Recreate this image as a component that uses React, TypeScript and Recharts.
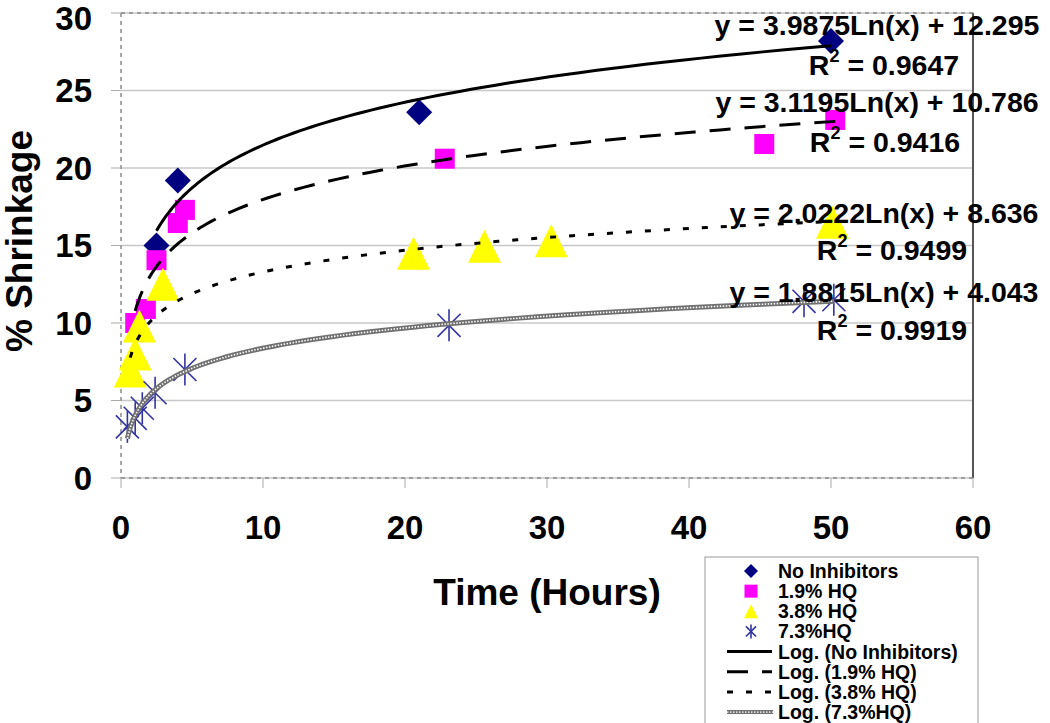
import React from 'react';
import { ComposedChart, Scatter, XAxis, YAxis, CartesianGrid, ReferenceLine } from 'recharts';

// measured points, hours vs % shrinkage
const noInhibX = [2.5, 4.0, 21, 50];
const noInhibY = [15.0, 19.2, 23.6, 28.2];

const hq19X = [1.0, 1.75, 2.5, 4.0, 4.5, 22.8, 45.3, 50.3];
const hq19Y = [10.0, 10.9, 14.05, 16.45, 17.3, 20.6, 21.55, 23.1];

const hq38X = [0.65, 1.0, 1.3, 2.95, 20.6, 25.6, 30.3, 50.1];
const hq38Y = [6.9, 8.0, 9.8, 12.5, 14.5, 14.95, 15.3, 16.5];

const hq73X = [0.45, 1.0, 1.5, 2.4, 4.5, 23.1, 48.1, 50.2];
const hq73Y = [3.3, 3.85, 4.5, 5.5, 7.0, 9.85, 11.4, 11.5];

// Excel log trendlines, as printed on the chart
const fitSlope = [3.9875, 3.1195, 2.0222, 1.8815];
const fitIntercept = [12.295, 10.786, 8.636, 4.043];
const fitR2 = ['0.9647', '0.9416', '0.9499', '0.9919'];

const xTicks = [0, 10, 20, 30, 40, 50, 60];
const yTicks = [0, 5, 10, 15, 20, 25, 30];

const seriesNames = ['No Inhibitors', '1.9% HQ', '3.8% HQ', '7.3%HQ'];

const FONT = '"Liberation Sans", Arial, sans-serif';

const toPoints = (xs: number[], ys: number[]) => xs.map((x, i) => ({ x, y: ys[i] }));

const trend = (xs: number[], k: number) => {
  const lo = Math.min(...xs);
  const hi = Math.max(...xs);
  const n = 90;
  return Array.from({ length: n }, (_, i) => {
    const x = lo * Math.pow(hi / lo, i / (n - 1));
    return { x, y: fitSlope[k] * Math.log(x) + fitIntercept[k] };
  });
};

const Diamond = ({ cx, cy, r = 13 }: any) => (
  <polygon points={`${cx},${cy - r} ${cx + r},${cy} ${cx},${cy + r} ${cx - r},${cy}`} fill="#000080" />
);
const Square = ({ cx, cy, r = 10 }: any) => (
  <rect x={cx - r} y={cy - r} width={r * 2} height={r * 2} fill="#FF00FF" />
);
const Triangle = ({ cx, cy, r = 16.5 }: any) => (
  <polygon points={`${cx},${cy - r} ${cx + r},${cy + r} ${cx - r},${cy + r}`} fill="#FFFF00" />
);
const Star = ({ cx, cy, r = 16 }: any) => {
  const d = r * 0.72;
  return (
    <g stroke="#3333A0" strokeWidth={1.6}>
      <line x1={cx} y1={cy - r} x2={cx} y2={cy + r} />
      <line x1={cx - d} y1={cy - d} x2={cx + d} y2={cy + d} />
      <line x1={cx - d} y1={cy + d} x2={cx + d} y2={cy - d} />
    </g>
  );
};
const NoDot = () => <g />;

const lineStyles = [
  { stroke: '#000', strokeWidth: 3 },
  { stroke: '#000', strokeWidth: 3, strokeDasharray: '21 14' },
  { stroke: '#000', strokeWidth: 3, strokeDasharray: '6 13' },
];
const ropeOuter = { stroke: '#707070', strokeWidth: 5 };
const ropeInner = { stroke: '#fff', strokeWidth: 1.6, strokeDasharray: '1.5 1.5' };

const eqLabels = [
  { cx: 877, y1: 35, cr: 884, y2: 75 },
  { cx: 877, y1: 112, cr: 885, y2: 152 },
  { cx: 884, y1: 223, cr: 892, y2: 260 },
  { cx: 884, y1: 302, cr: 892, y2: 340 },
];

const fmtEq = (k: number) => `y = ${fitSlope[k]}Ln(x) + ${fitIntercept[k]}`;

export default function App() {
  const tickStyle = { fill: '#000', fontSize: 33, fontWeight: 700, fontFamily: FONT };
  const rows = [...seriesNames, ...seriesNames.map((s) => `Log. (${s})`)];

  return (
    <div style={{ position: 'absolute', left: 0, top: 0, width: 1050, height: 723, background: '#fff', overflow: 'hidden' }}>
      <ComposedChart width={1050} height={723} margin={{ top: 13, right: 77, bottom: 175, left: 0 }}>
        <CartesianGrid vertical={false} stroke="#c8c8c8" strokeWidth={1.5} />
        <XAxis
          type="number"
          dataKey="x"
          domain={[0, 60]}
          ticks={xTicks}
          height={70}
          tick={tickStyle}
          tickSize={10}
          tickMargin={28}
          axisLine={{ stroke: '#8a8a8a', strokeWidth: 1.5, strokeDasharray: '4 4' }}
          tickLine={{ stroke: '#aaa' }}
        />
        <YAxis
          type="number"
          dataKey="y"
          domain={[0, 30]}
          ticks={yTicks}
          width={121}
          tick={tickStyle}
          tickSize={10}
          tickMargin={19}
          axisLine={{ stroke: '#8a8a8a', strokeWidth: 1.5, strokeDasharray: '4 4' }}
          tickLine={{ stroke: '#aaa' }}
        />
        <ReferenceLine y={30} stroke="#8a8a8a" strokeWidth={1.5} strokeDasharray="4 4" />
        <ReferenceLine x={60} stroke="#555" strokeWidth={2} />

        <Scatter data={toPoints(noInhibX, noInhibY)} shape={<Diamond />} isAnimationActive={false} />
        <Scatter data={toPoints(hq19X, hq19Y)} shape={<Square />} isAnimationActive={false} />
        <Scatter data={toPoints(hq38X, hq38Y)} shape={<Triangle />} isAnimationActive={false} />
        <Scatter data={toPoints(hq73X, hq73Y)} shape={<Star />} isAnimationActive={false} />

        <Scatter data={trend(noInhibX, 0)} line={lineStyles[0]} shape={<NoDot />} isAnimationActive={false} />
        <Scatter data={trend(hq19X, 1)} line={lineStyles[1]} shape={<NoDot />} isAnimationActive={false} />
        <Scatter data={trend(hq38X, 2)} line={lineStyles[2]} shape={<NoDot />} isAnimationActive={false} />
        <Scatter data={trend(hq73X, 3)} line={ropeOuter} shape={<NoDot />} isAnimationActive={false} />
        <Scatter data={trend(hq73X, 3)} line={ropeInner} shape={<NoDot />} isAnimationActive={false} />
      </ComposedChart>

      <svg width={1050} height={723} style={{ position: 'absolute', left: 0, top: 0, pointerEvents: 'none' }}>
        <g fontFamily={FONT} fontWeight={700} fill="#000">
          <text x={32} y={241} fontSize={37} textAnchor="middle" transform="rotate(-90 32 241)">
            % Shrinkage
          </text>
          <text x={547} y={605} fontSize={37} textAnchor="middle">
            Time (Hours)
          </text>

          {eqLabels.map((p, k) => (
            <g key={k} fontSize={28.5}>
              <text x={p.cx} y={p.y1} textAnchor="middle">{fmtEq(k)}</text>
              <text x={p.cr} y={p.y2} textAnchor="middle">
                R<tspan dy={-13} fontSize={18}>2</tspan>
                <tspan dy={13}> = {fitR2[k]}</tspan>
              </text>
            </g>
          ))}
        </g>

        <rect x={705} y={557} width={273} height={180} fill="#fff" stroke="#999" strokeWidth={1} />
        {rows.map((label, i) => {
          const cy = 571 + i * 20.15;
          let icon: React.ReactNode = null;
          if (i === 0) icon = <Diamond cx={751} cy={cy} r={7} />;
          if (i === 1) icon = <Square cx={751} cy={cy} r={6.5} />;
          if (i === 2) icon = <Triangle cx={751} cy={cy} r={7} />;
          if (i === 3) icon = <Star cx={751} cy={cy} r={7} />;
          if (i >= 4 && i <= 6) icon = <line x1={727} x2={772} y1={cy} y2={cy} {...lineStyles[i - 4]} />;
          if (i === 7)
            icon = (
              <g>
                <line x1={727} x2={773} y1={cy} y2={cy} {...ropeOuter} strokeWidth={4} />
                <line x1={727} x2={773} y1={cy} y2={cy} {...ropeInner} strokeWidth={1.2} />
              </g>
            );
          return (
            <g key={label}>
              {icon}
              <text x={778} y={cy + 7} fontFamily={FONT} fontWeight={700} fontSize={19.5} fill="#000">
                {label}
              </text>
            </g>
          );
        })}
      </svg>
    </div>
  );
}
